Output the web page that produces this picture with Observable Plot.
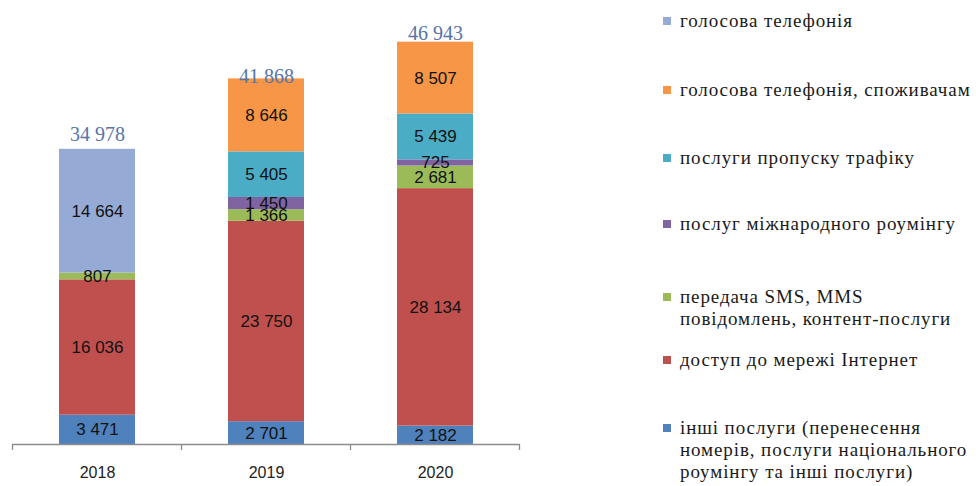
<!DOCTYPE html>
<html><head><meta charset="utf-8">
<script src="https://cdn.jsdelivr.net/npm/d3@7"></script>
<script src="https://cdn.jsdelivr.net/npm/@observablehq/plot@0.6"></script>
<style>
body{margin:0;background:#fff;}
#chart{position:relative;width:976px;height:486px;overflow:hidden;}
.leg{position:absolute;left:663px;font-family:"Liberation Serif","DejaVu Serif",serif;font-size:19px;letter-spacing:0.9px;color:#1a1a1a;white-space:nowrap;line-height:22px;}
.leg .sw{position:absolute;left:0;top:7px;width:8px;height:8px;}
.leg .tx{margin-left:17px;}
</style></head><body><div id="chart"></div>
<script>
const years = ["2018", "2019", "2020"];
const series = [
  "інші послуги",
  "доступ до мережі Інтернет",
  "передача SMS, MMS повідомлень, контент-послуги",
  "послуг міжнародного роумінгу",
  "послуги пропуску трафіку",
  "голосова телефонія, споживачам",
  "голосова телефонія"
];
const colors = ["#4f81bd", "#c0504d", "#9bbb59", "#8064a2", "#4bacc6", "#f79646", "#95abd5"];
const values2018 = [3471, 16036, 807, 0, 0, 0, 14664];
const values2019 = [2701, 23750, 1366, 1450, 5405, 8646, 0];
const values2020 = [2182, 28134, 2681, 725, 5439, 8507, 0];
const totals = [34978, 41868, 46943];
// legend, top to bottom
const legendSeries = [6, 5, 4, 3, 2, 1, 0];
const legendLines = [
  ["голосова телефонія"],
  ["голосова телефонія, споживачам"],
  ["послуги пропуску трафіку"],
  ["послуг міжнародного роумінгу"],
  ["передача SMS, MMS", "повідомлень, контент-послуги"],
  ["доступ до мережі Інтернет"],
  ["інші послуги (перенесення", "номерів, послуги національного", "роумінгу та інші послуги)"]
];
const legendTop = [10, 79, 147, 213, 286, 349, 417];

const fmtS = d3.formatLocale({thousands: " ", grouping: [3], decimal: ",", currency: ["", ""]}).format(",d");

const allValues = [values2018, values2019, values2020];
const rows = [];
years.forEach((y, i) => series.forEach((s, j) => {
  if (allValues[i][j] > 0) rows.push({year: y, series: s, value: allValues[i][j]});
}));
const totalRows = years.map((y, i) => ({year: y, total: totals[i]}));

function boundaryTicks() {
  return (index, scales, values, dims) => {
    const x = scales.x;
    const bw = x.bandwidth ? x.bandwidth() : 0;
    const step = x(years[1]) - x(years[0]);
    const y0 = scales.y(0);
    const g = d3.create("svg:g").attr("stroke", "#8c8c8c").attr("stroke-width", 1.3);
    const xs = years.map(v => x(v) + bw / 2 - step / 2);
    xs.push(x(years[years.length - 1]) + bw / 2 + step / 2);
    xs.forEach(px => g.append("line").attr("x1", px).attr("x2", px).attr("y1", y0).attr("y2", y0 + 6));
    return g.node();
  };
}

const chart = Plot.plot({
  width: 976,
  height: 486,
  marginLeft: 12,
  marginRight: 456,
  marginTop: 22,
  marginBottom: 42,
  style: {background: "#fff", fontFamily: "Liberation Sans, Arial, sans-serif"},
  x: {domain: years, paddingInner: 0.55, paddingOuter: 0.275, label: null},
  y: {domain: [0, 50000], axis: null},
  color: {domain: series, range: colors},
  marks: [
    Plot.barY(rows, Plot.stackY({x: "year", y: "value", z: "series", order: series, fill: "series"})),
    Plot.text(rows, Plot.stackY({x: "year", y: "value", z: "series", order: series,
      text: d => fmtS(d.value), fill: "#111", fontSize: 17, fontFamily: "Liberation Sans, Arial, sans-serif"})),
    Plot.text(totalRows, {x: "year", y: "total", text: d => fmtS(d.total), dy: -15,
      fill: "#5675a8", fontSize: 20, fontFamily: "'Liberation Serif', 'DejaVu Serif', serif"}),
    Plot.ruleY([0], {stroke: "#8c8c8c", strokeWidth: 1.3}),
    boundaryTicks(),
    Plot.axisX({tickSize: 0, tickPadding: 22, fontSize: 16, fill: "#222", label: null})
  ]
});
const root = document.getElementById("chart");
root.appendChild(chart);

legendSeries.forEach((si, k) => {
  const div = document.createElement("div");
  div.className = "leg";
  div.style.top = legendTop[k] + "px";
  const sw = document.createElement("span");
  sw.className = "sw";
  sw.style.background = colors[si];
  div.appendChild(sw);
  const tx = document.createElement("div");
  tx.className = "tx";
  tx.innerHTML = legendLines[k].map(l => l.replace(/&/g, "&amp;").replace(/</g, "&lt;")).join("<br>");
  div.appendChild(tx);
  root.appendChild(div);
});
</script></body></html>
